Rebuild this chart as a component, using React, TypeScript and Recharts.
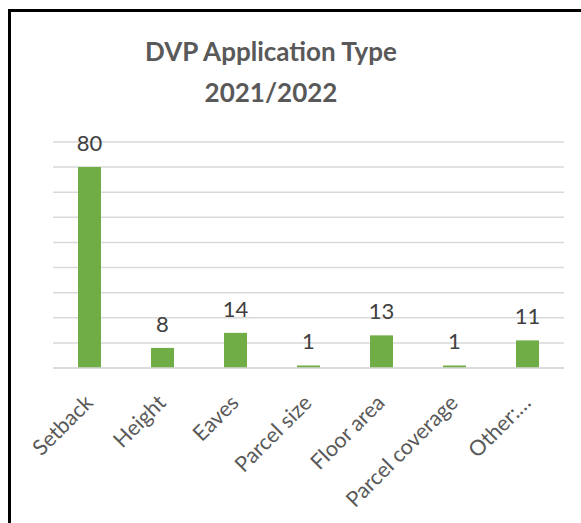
import { BarChart, Bar, XAxis, YAxis, CartesianGrid, LabelList } from "recharts";

const categories = ["Setback", "Height", "Eaves", "Parcel size", "Floor area", "Parcel coverage", "Other:…"];
const counts = [80, 8, 14, 1, 13, 1, 11];
const yTicks = [0, 10, 20, 30, 40, 50, 60, 70, 80, 90];

const data = categories.map((name, i) => ({ name, count: counts[i] }));

const FONT = "Lato, 'Open Sans', sans-serif";

const AngledTick = (props: any) => {
  const { x, y, payload } = props;
  return (
    <g transform={`translate(${x - 1},${y + 14})`}>
      <text
        transform="rotate(-45)"
        x={0}
        y={0}
        dx={-6}
        dy={14}
        textAnchor="end"
        fill="#595959"
        fontSize={21.5}
        fontFamily={FONT}
      >
        {payload.value}
      </text>
    </g>
  );
};

export default function App() {
  return (
    <>
      <style>{"html,body{margin:0;overflow:hidden;background:#fff}"}</style>
      {/* frame: only top and left edges are visible in the original */}
      <div style={{ position: "absolute", left: 8, top: 9, width: 573, height: 3, background: "#000" }} />
      <div style={{ position: "absolute", left: 8, top: 9, width: 3, height: 514, background: "#000" }} />
      <div
        style={{
          position: "absolute",
          left: 60 + 11,
          width: 400,
          top: 19 + 12,
          textAlign: "center",
          fontFamily: FONT,
          fontWeight: 700,
          fontSize: 26,
          lineHeight: "41px",
          color: "#595959",
        }}
      >
        DVP Application Type
        <br />
        2021/2022
      </div>
      <div style={{ position: "absolute", left: 11, top: 12 }}>
        <BarChart
          width={560}
          height={500}
          data={data}
          margin={{ top: 130, right: 7, left: 42, bottom: 0 }}
          style={{ overflow: "hidden" }}
        >
          <CartesianGrid vertical={false} stroke="#d9d9d9" strokeWidth={1.5} />
          <YAxis hide domain={[0, 90]} ticks={yTicks} />
          <XAxis
            dataKey="name"
            height={144}
            interval={0}
            tickLine={false}
            axisLine={{ stroke: "#d9d9d9", strokeWidth: 1.5 }}
            tick={<AngledTick />}
          />
          <Bar dataKey="count" fill="#70ad47" barSize={23} isAnimationActive={false}>
            <LabelList
              dataKey="count"
              position="top"
              offset={16}
              fill="#404040"
              fontSize={22}
              fontFamily={FONT}
            />
          </Bar>
        </BarChart>
      </div>
    </>
  );
}
